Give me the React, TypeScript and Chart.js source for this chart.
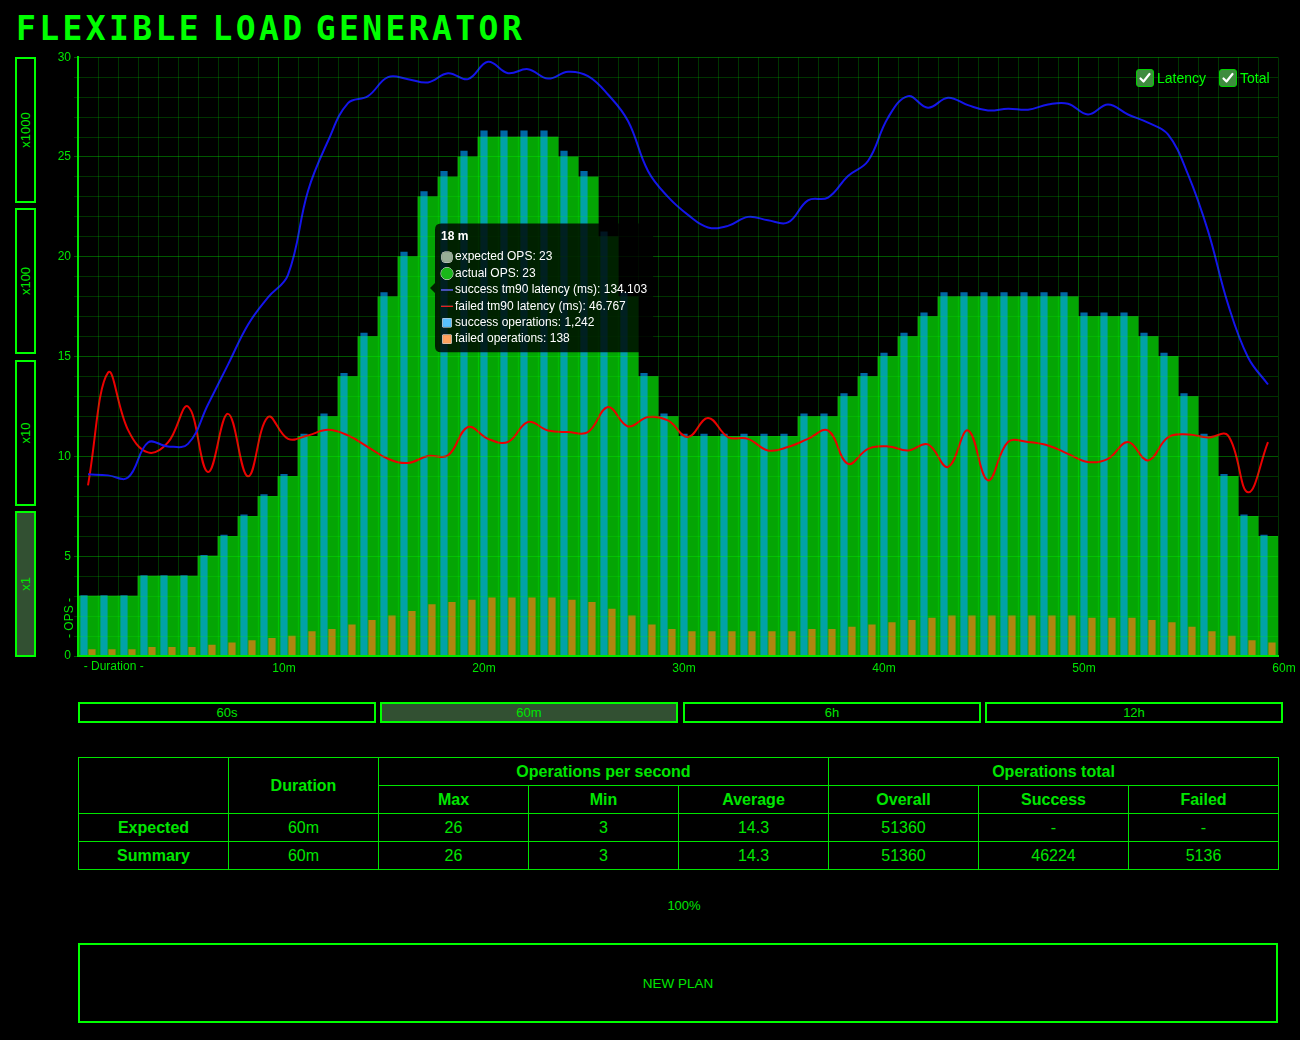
import React, { useEffect, useRef } from 'react';
import { Chart, registerables } from 'chart.js';

Chart.register(...registerables);
Chart.defaults.font.family = '"Liberation Sans", Arial, Helvetica, sans-serif';

// ---------- data ----------
const minuteLabels = [
  '1 m', '2 m', '3 m', '4 m', '5 m', '6 m', '7 m', '8 m', '9 m', '10 m',
  '11 m', '12 m', '13 m', '14 m', '15 m', '16 m', '17 m', '18 m', '19 m', '20 m',
  '21 m', '22 m', '23 m', '24 m', '25 m', '26 m', '27 m', '28 m', '29 m', '30 m',
  '31 m', '32 m', '33 m', '34 m', '35 m', '36 m', '37 m', '38 m', '39 m', '40 m',
  '41 m', '42 m', '43 m', '44 m', '45 m', '46 m', '47 m', '48 m', '49 m', '50 m',
  '51 m', '52 m', '53 m', '54 m', '55 m', '56 m', '57 m', '58 m', '59 m', '60 m',
];

const durationMarks = ['10m', '20m', '30m', '40m', '50m', '60m'];

const expectedOps = [
  3, 3, 3, 4, 4, 4, 5, 6, 7, 8,
  9, 11, 12, 14, 16, 18, 20, 23, 24, 25,
  26, 26, 26, 26, 25, 24, 21, 18, 14, 12,
  11, 11, 11, 11, 11, 11, 12, 12, 13, 14,
  15, 16, 17, 18, 18, 18, 18, 18, 18, 18,
  17, 17, 17, 16, 15, 13, 11, 9, 7, 6,
];

const actualOps = [
  3, 3, 3, 4, 4, 4, 5, 6, 7, 8,
  9, 11, 12, 14, 16, 18, 20, 23, 24, 25,
  26, 26, 26, 26, 25, 24, 21, 18, 14, 12,
  11, 11, 11, 11, 11, 11, 12, 12, 13, 14,
  15, 16, 17, 18, 18, 18, 18, 18, 18, 18,
  17, 17, 17, 16, 15, 13, 11, 9, 7, 6,
];

const successLatency = [
  42.47, 42.23, 41.72, 49.93, 49.0, 49.6, 58.8, 68.13, 77.47, 83.86,
  89.13, 108.73, 120.4, 129.27, 130.9, 135.33, 134.87, 134.103, 136.27, 134.87,
  138.93, 136.27, 137.2, 135.0, 136.6, 135.57, 131.27, 125.07, 113.4, 107.33,
  103.13, 100.2, 100.57, 102.67, 101.87, 101.36, 106.54, 107.19, 112.23, 115.73,
  125.86, 130.9, 128.19, 130.53, 128.8, 127.54, 127.96, 127.73, 128.94, 129.13,
  126.61, 128.94, 126.61, 124.69, 121.94, 112.61, 99.4, 82.27, 69.86, 63.47,
];

const failedLatency = [
  39.9, 66.27, 52.87, 47.6, 49.93, 58.33, 43.03, 56.61, 42.0, 55.86,
  50.77, 51.57, 52.87, 51.57, 48.86, 46.11, 45.13, 46.767, 46.9, 53.53,
  50.77, 50.03, 54.69, 52.73, 52.36, 52.36, 58.19, 53.67, 55.86, 55.07,
  51.19, 55.67, 51.19, 50.77, 48.07, 48.86, 50.77, 52.73, 44.94, 48.44,
  49.0, 48.07, 49.47, 44.19, 52.73, 41.07, 50.03, 50.03, 49.23, 47.27,
  45.36, 46.11, 50.03, 45.73, 51.1, 51.8, 51.1, 51.57, 38.27, 50.03,
];

const successOperations = [
  162, 162, 162, 216, 216, 216, 270, 324, 378, 432,
  486, 594, 648, 756, 864, 972, 1080, 1242, 1296, 1350,
  1404, 1404, 1404, 1404, 1350, 1296, 1134, 972, 756, 648,
  594, 594, 594, 594, 594, 594, 648, 648, 702, 756,
  810, 864, 918, 972, 972, 972, 972, 972, 972, 972,
  918, 918, 918, 864, 810, 702, 594, 486, 378, 324,
];

const failedOperations = [
  18, 18, 18, 24, 24, 24, 30, 36, 42, 48,
  54, 66, 72, 84, 96, 108, 120, 138, 144, 150,
  156, 156, 156, 156, 150, 144, 126, 108, 84, 72,
  66, 66, 66, 66, 66, 66, 72, 72, 78, 84,
  90, 96, 102, 108, 108, 108, 108, 108, 108, 108,
  102, 102, 102, 96, 90, 78, 66, 54, 42, 36,
];

const scaleButtons = ['x1000', 'x100', 'x10', 'x1'];
const activeScale = 'x1';
const rangeTabs = ['60s', '60m', '6h', '12h'];
const activeRange = '60m';
const legendItems = ['Latency', 'Total'];

const tableRowNames = ['Expected', 'Summary'];
const expectedRow = ['60m', '26', '3', '14.3', '51360', '-', '-'];
const summaryRow = ['60m', '26', '3', '14.3', '51360', '46224', '5136'];
const subHeaders = ['Max', 'Min', 'Average', 'Overall', 'Success', 'Failed'];

const tooltipIndex = 17;
const pointStyles = ['rectRounded', 'circle', 'line', 'line', 'rect', 'rect'];

// ---------- style ----------
const GREEN = 'rgb(0,230,0)';
const BRIGHT = '#00ff00';
const ACTIVE_FILL = 'rgb(50,80,50)';
const GRID_MINOR = 'rgba(0,255,0,0.2)';
const GRID_MAJOR = 'rgba(0,255,0,0.34)';

const captionPlugin = {
  id: 'axisCaptions',
  afterDatasetsDraw(chart: any) {
    const { ctx, chartArea } = chart;
    ctx.save();
    ctx.fillStyle = GREEN;
    ctx.font = '12px "Liberation Sans", Arial, sans-serif';
    ctx.textAlign = 'center';
    ctx.textBaseline = 'middle';
    ctx.fillText('- Duration -', chartArea.left + 35.7, chartArea.bottom + 11);
    ctx.translate(chartArea.left - 8, chartArea.bottom - 38);
    ctx.rotate(-Math.PI / 2);
    ctx.fillText('- OPS -', 0, 0);
    ctx.restore();
  },
};

function ChartCanvas() {
  const ref = useRef<HTMLCanvasElement>(null);
  useEffect(() => {
    const canvas = ref.current;
    if (!canvas) return;
    const chart = new Chart(canvas, {
      type: 'bar',
      data: {
        labels: minuteLabels,
        datasets: [
          {
            type: 'bar', label: 'expected OPS', data: expectedOps,
            backgroundColor: 'rgba(80,120,80,0.6)', borderWidth: 0,
            grouped: false, barPercentage: 1, categoryPercentage: 1,
            yAxisID: 'y', order: 4,
          },
          {
            type: 'bar', label: 'actual OPS', data: actualOps,
            backgroundColor: 'rgba(0,175,0,0.9)', borderWidth: 0,
            grouped: false, barPercentage: 1, categoryPercentage: 1,
            yAxisID: 'y', order: 3,
          },
          {
            type: 'line', label: 'success tm90 latency (ms)', data: successLatency,
            borderColor: 'rgb(20,20,235)', backgroundColor: 'rgb(20,20,235)',
            borderWidth: 2, pointRadius: 0, pointHoverRadius: 0, tension: 0.4,
            yAxisID: 'yLatency', order: 0,
          },
          {
            type: 'line', label: 'failed tm90 latency (ms)', data: failedLatency,
            borderColor: 'rgb(235,0,0)', backgroundColor: 'rgb(235,0,0)',
            borderWidth: 2, pointRadius: 0, pointHoverRadius: 0, tension: 0.4,
            yAxisID: 'yLatency', order: 0,
          },
          {
            type: 'bar', label: 'success operations', data: successOperations,
            backgroundColor: 'rgba(0,160,255,0.65)', borderWidth: 0,
            yAxisID: 'yOperations', order: 1,
          },
          {
            type: 'bar', label: 'failed operations', data: failedOperations,
            backgroundColor: 'rgba(255,120,20,0.68)', borderWidth: 0,
            yAxisID: 'yOperations', order: 1,
          },
        ] as any,
      },
      options: {
        responsive: false,
        animation: false,
        events: [],
        layout: { padding: { top: 3, right: 22, bottom: 0, left: 0 } },
        interaction: { mode: 'index', intersect: false },
        scales: {
          x: {
            type: 'category',
            offset: true,
            grid: {
              offset: true,
              z: 1,
              drawTicks: false,
              color: (ctx: any) => (ctx.index % 10 === 0 && ctx.index > 0 && ctx.index < 60 ? GRID_MAJOR : GRID_MINOR),
            },
            border: { color: GREEN, width: 2, z: 2 },
            ticks: {
              autoSkip: false,
              maxRotation: 0,
              minRotation: 0,
              color: GREEN,
              padding: 5,
              labelOffset: 16,
              font: { size: 12 },
              callback: (_v: any, i: number) => ((i + 1) % 10 === 0 ? durationMarks[(i + 1) / 10 - 1] : ''),
            },
            afterFit: (s: any) => { s.height = 34; },
          },
          y: {
            position: 'left',
            min: 0,
            max: 30,
            grid: {
              z: 1,
              tickLength: 4,
              color: (ctx: any) => (ctx.tick && ctx.tick.value % 5 === 0 ? GRID_MAJOR : GRID_MINOR),
            },
            border: { color: GREEN, width: 2, z: 2 },
            ticks: {
              stepSize: 1,
              autoSkip: false,
              color: GREEN,
              padding: 3,
              font: { size: 12 },
              callback: (v: any) => (Number(v) % 5 === 0 ? String(v) : ''),
            },
            afterFit: (s: any) => { s.width = 78; },
          },
          yOperations: { display: false, min: 0, max: 1600 },
          yLatency: { display: false, min: 0, max: 140 },
        } as any,
        plugins: {
          legend: { display: false },
          tooltip: {
            enabled: true,
            mode: 'index',
            intersect: false,
            usePointStyle: true,
            itemSort: (a: any, b: any) => a.datasetIndex - b.datasetIndex,
            callbacks: {
              labelPointStyle: (ctx: any) => ({ pointStyle: pointStyles[ctx.datasetIndex] as any, rotation: 0 }),
            },
          },
        },
      },
      plugins: [captionPlugin],
    });
    const area = chart.chartArea;
    chart.tooltip?.setActiveElements(
      [0, 1, 2, 3, 4, 5].map((d) => ({ datasetIndex: d, index: tooltipIndex })),
      { x: (area.left + area.right) / 2, y: (area.top + area.bottom) / 2 },
    );
    chart.update();
    return () => chart.destroy();
  }, []);
  return (
    <canvas
      ref={ref}
      width={1300}
      height={643}
      style={{ position: 'absolute', left: 0, top: 47, width: 1300, height: 643 }}
    />
  );
}

function CheckBox({ left, top }: { left: number; top: number }) {
  return (
    <div
      style={{
        position: 'absolute', left, top, width: 18, height: 18, boxSizing: 'border-box',
        border: '1px solid rgb(0,210,0)', borderRadius: 3, background: 'rgb(62,140,62)',
      }}
    >
      <svg width="16" height="16" viewBox="0 0 16 16" style={{ position: 'absolute', left: 0, top: 0 }}>
        <path d="M3.5 8.5 L6.5 11.5 L12.5 4" stroke="#fff" strokeWidth="2.2" fill="none" strokeLinecap="round" strokeLinejoin="round" />
      </svg>
    </div>
  );
}

export default function App() {
  const sideTops = [57, 208, 360, 511];
  const tabLefts = [78, 380, 683, 985];
  const legendBoxLefts = [1136, 1219];
  const cellBase: React.CSSProperties = {
    background: '#000', display: 'flex', alignItems: 'center', justifyContent: 'center',
    fontSize: 16, color: GREEN,
  };
  return (
    <div
      style={{
        position: 'fixed', left: 0, top: 0, width: 1300, height: 1040, background: '#000',
        overflow: 'hidden', fontFamily: '"Liberation Sans", Arial, sans-serif', color: GREEN,
      }}
    >
      <div
        style={{
          position: 'absolute', left: 16, top: 12, fontFamily: '"DejaVu Sans Mono", monospace',
          fontWeight: 700, fontSize: 33, lineHeight: '33px', letterSpacing: 3.4, wordSpacing: -13,
          color: BRIGHT, whiteSpace: 'nowrap',
        }}
      >
        FLEXIBLE LOAD GENERATOR
      </div>

      {scaleButtons.map((s, i) => (
        <div
          key={s}
          style={{
            position: 'absolute', left: 15, top: sideTops[i], width: 21, height: 146,
            boxSizing: 'border-box', border: `2px solid ${BRIGHT}`,
            background: s === activeScale ? ACTIVE_FILL : '#000',
          }}
        >
          <div
            style={{
              position: 'absolute', left: '50%', top: '50%', transform: 'translate(-50%, -50%) rotate(-90deg)',
              fontSize: 13, whiteSpace: 'nowrap', color: GREEN, lineHeight: '14px',
            }}
          >
            {s}
          </div>
        </div>
      ))}

      <ChartCanvas />

      {legendItems.map((t, i) => (
        <React.Fragment key={t}>
          <CheckBox left={legendBoxLefts[i]} top={69} />
          <div
            style={{
              position: 'absolute', left: legendBoxLefts[i] + 21, top: 69, fontSize: 14,
              lineHeight: '18px', color: BRIGHT, whiteSpace: 'nowrap',
            }}
          >
            {t}
          </div>
        </React.Fragment>
      ))}

      {rangeTabs.map((t, i) => (
        <div
          key={t}
          style={{
            position: 'absolute', left: tabLefts[i], top: 702, width: 298, height: 21,
            boxSizing: 'border-box', border: `2px solid ${BRIGHT}`,
            background: t === activeRange ? ACTIVE_FILL : '#000',
            display: 'flex', alignItems: 'center', justifyContent: 'center', fontSize: 13, color: GREEN,
          }}
        >
          {t}
        </div>
      ))}

      <div
        style={{
          position: 'absolute', left: 78, top: 757, display: 'grid',
          gridTemplateColumns: 'repeat(8, 149px)', gridTemplateRows: 'repeat(4, 27px)',
          gap: 1, padding: 1, background: GREEN,
        }}
      >
        <div style={{ ...cellBase, gridColumn: '1', gridRow: '1 / span 2' }} />
        <div style={{ ...cellBase, gridColumn: '2', gridRow: '1 / span 2', fontWeight: 700 }}>Duration</div>
        <div style={{ ...cellBase, gridColumn: '3 / span 3', gridRow: '1', fontWeight: 700 }}>Operations per second</div>
        <div style={{ ...cellBase, gridColumn: '6 / span 3', gridRow: '1', fontWeight: 700 }}>Operations total</div>
        {subHeaders.map((h, i) => (
          <div key={h} style={{ ...cellBase, gridColumn: String(3 + i), gridRow: '2', fontWeight: 700 }}>{h}</div>
        ))}
        {[expectedRow, summaryRow].map((row, r) => (
          <React.Fragment key={tableRowNames[r]}>
            <div style={{ ...cellBase, gridColumn: '1', gridRow: String(3 + r), fontWeight: 700 }}>{tableRowNames[r]}</div>
            {row.map((v, c) => (
              <div key={c} style={{ ...cellBase, gridColumn: String(2 + c), gridRow: String(3 + r) }}>{v}</div>
            ))}
          </React.Fragment>
        ))}
      </div>

      <div
        style={{
          position: 'absolute', left: 584, width: 200, top: 898, textAlign: 'center', fontSize: 13,
          lineHeight: '16px', color: GREEN,
        }}
      >
        100%
      </div>

      <div
        style={{
          position: 'absolute', left: 78, top: 943, width: 1200, height: 80, boxSizing: 'border-box',
          border: `2px solid ${BRIGHT}`, display: 'flex', alignItems: 'center', justifyContent: 'center',
          fontSize: 13.5, color: GREEN,
        }}
      >
        NEW PLAN
      </div>
    </div>
  );
}
